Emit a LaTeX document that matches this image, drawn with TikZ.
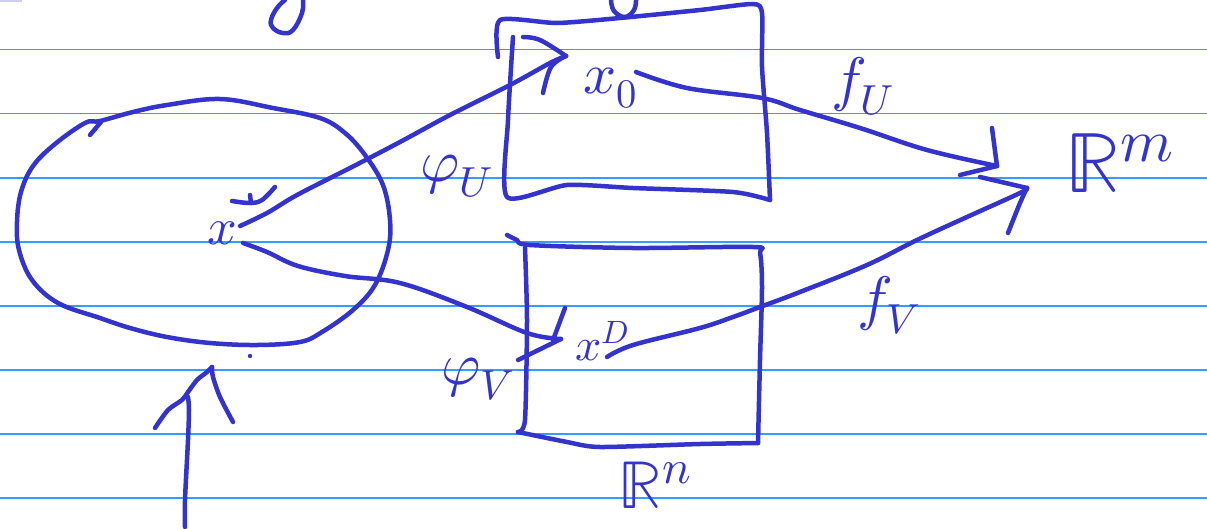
\documentclass[tikz,border=0pt]{standalone}
\usepackage{unicode-math}
\setmathfont{Latin Modern Math}
\definecolor{ink}{RGB}{52,52,204}
\definecolor{rulecol}{RGB}{58,155,255}
\definecolor{smudge}{RGB}{205,205,245}
\tikzset{
  pen/.style={draw=ink, line width=4.5pt, line cap=round, line join=round},
  ruled/.style={draw=rulecol, line width=1.8pt},
  lbl/.style={text=ink, inner sep=0pt},
}
\newcommand{\hand}[1]{\fontsize{#1}{#1}\selectfont}

\begin{document}
\begin{tikzpicture}[x=1pt,y=-1pt]
\useasboundingbox (0,0) rectangle (1207,528);
\fill[white] (0,0) rectangle (1207,528);

% ruled paper
\foreach \yy in {49.5,113.5,178,242,306,370,434,498}
  \draw[ruled] (0,\yy) -- (1207,\yy);
\fill[smudge] (0,0) rectangle (22,1.8);

% fragments of writing cut off at the top edge
\draw[pen] plot[smooth, tension=0.7] coordinates {(303,0) (302,13) (293,30) (283,33) (273,28) (271,20) (277,8) (285,0)};
\draw[pen] plot[smooth, tension=0.7] coordinates {(611,0) (614,11) (625,17) (634,10) (636,0)};

% the domain (oval)
\draw[pen] plot[smooth cycle, tension=0.6] coordinates {
  (85,123) (55,144) (33,166) (21,192) (17,222) (19,250) (32,280) (58,303) (100,318)
  (130,328) (167,337) (210,343) (257,345) (300,342) (322,332) (353,310)
  (375,285) (388,250) (390,220) (383,185) (365,155) (345,133) (320,118)
  (273,108) (220,99) (167,105) (133,112) (100,121)};
\draw[pen] (90,135) -- (101,122);
\fill[ink] (250,356) circle (2.2);

% point in the oval
\node[lbl] (p) at (222,233) {\hand{52}$x$};
\draw[pen] plot[smooth, tension=0.6] coordinates {(232,201) (250,203) (262,200) (275,187)};
\draw[pen] (250,195) -- (251,203);

% chart rectangle U
\draw[pen] plot[smooth, tension=0.4] coordinates {(498,57) (500,20) (557,23) (620,18) (700,10) (753,4) (762,13) (762,67) (767,133) (770,200)};
\draw[pen] plot[smooth, tension=0.4] coordinates {(770,200) (733,192) (633,188) (567,185) (507,197) (508,120) (513,37)};

% chart rectangle V
\draw[pen] plot[smooth, tension=0.5] coordinates {(507,235) (517,240) (530,245) (633,248) (753,247) (760,253) (762,287) (760,360) (758,443)};
\draw[pen] plot[smooth, tension=0.4] coordinates {(758,443) (700,444) (600,447) (567,442) (518,432)};
\draw[pen] plot[smooth, tension=0.4] coordinates {(518,432) (525,420) (527,320) (525,248)};

% target spaces
\node[lbl] (Rm) at (1120,163) {\hand{86}$\mathbb{R}^{m}$};
\node[lbl] (Rn) at (655,485) {\hand{68}$\mathbb{R}^{n}$};

% anchor points of the maps
\coordinate (pu) at (240,226);
\coordinate (pv) at (243,243);
\coordinate (xu) at (566,56);
\coordinate (xv) at (561,339);
\coordinate (fu0) at (636,72);
\coordinate (fv0) at (607,357);
\coordinate (tu) at (997,166);
\coordinate (tv) at (1027,188);

% images of the point
\node[lbl] (xo) at (610,88) {\hand{58}$x_0$};
\node[lbl] (xd) at (602,341) {\hand{46}$x^{D}$};

% phi_U
\draw[pen] plot[smooth, tension=0.6] coordinates {(pu) (267,213) (297,195) (350,168) (400,142) (450,115) (510,85) (550,63) (xu)};
\draw[pen] plot[smooth, tension=0.6] coordinates {(523,37) (540,40) (xu)};
\draw[pen] plot[smooth, tension=0.6] coordinates {(xu) (551,67) (543,93)};
\node[lbl] (phiU) at (457,176) {\hand{60}$\varphi_U$};

% phi_V
\draw[pen] plot[smooth, tension=0.6] coordinates {(pv) (267,252) (298,266) (345,276) (400,283) (467,307) (527,333) (xv)};
\draw[pen] (565,308) -- (553,340);
\draw[pen] (518,360) -- (xv);
\node[lbl] (phiV) at (478,379) {\hand{60}$\varphi_V$};

% f_U
\draw[pen] plot[smooth, tension=0.6] coordinates {(fu0) (687,88) (762,98) (800,110) (860,128) (927,150) (tu)};
\draw[pen] (992,128) -- (tu);
\draw[pen] (tu) -- (960,175);
\node[lbl] (fU) at (863,86) {\hand{60}$f_U$};

% f_V
\draw[pen] plot[smooth, tension=0.6] coordinates {(fv0) (633,345) (700,328) (733,317) (760,307) (800,292) (867,265) (917,240) (967,217) (1020,193) (tv)};
\draw[pen] (980,177) -- (tv);
\draw[pen] plot[smooth, tension=0.6] coordinates {(tv) (1020,203) (1008,233)};
\node[lbl] (fV) at (889,305) {\hand{60}$f_V$};

% pointer to the oval
\coordinate (ptail) at (185,527);
\coordinate (ptip) at (212,367);
\draw[pen] plot[smooth, tension=0.5] coordinates {(ptail) (185,500) (188,440) (189,410) (188,397)};
\draw[pen] plot[smooth, tension=0.5] coordinates {(155,428) (168,410) (182,400) (188,392) (197,380) (207,372) (ptip)};
\draw[pen] plot[smooth, tension=0.5] coordinates {(ptip) (213,377) (220,397) (233,422)};
\end{tikzpicture}
\end{document}
